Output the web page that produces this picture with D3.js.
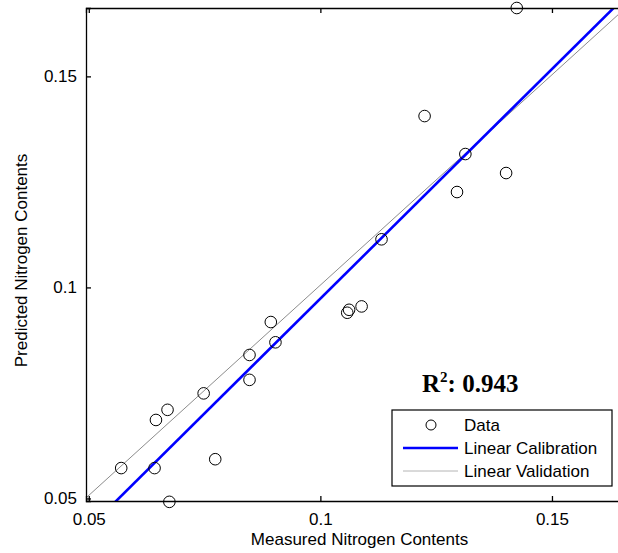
<!DOCTYPE html>
<html>
<head>
<meta charset="utf-8">
<script src="https://cdn.jsdelivr.net/npm/d3@7"></script>
<style>
  body { margin: 0; background: #fff; }
  text { font-family: "Liberation Sans", Arial, sans-serif; }
</style>
</head>
<body>
<div id="chart-area"></div>
<script>
// measured vs predicted nitrogen contents
var measured = [0.1424, 0.1225, 0.1313, 0.1401, 0.1295, 0.1132, 0.1089, 0.1062, 0.1058, 0.0893,
                0.0903, 0.0847, 0.0847, 0.0748, 0.0670, 0.0645, 0.0773, 0.0570, 0.0642, 0.0674];
var predicted = [0.1662, 0.1406, 0.1316, 0.1271, 0.1226, 0.1114, 0.0955, 0.0947, 0.0940, 0.0918,
                 0.0870, 0.0840, 0.0781, 0.0749, 0.0710, 0.0686, 0.0593, 0.0572, 0.0572, 0.0492];

// fitted lines: [slope, intercept]
var calibration = [1.0875, -0.0114];
var validation = [0.9965, 0.0009];

var xTicks = [0.05, 0.1, 0.15];
var yTicks = [0.05, 0.1, 0.15];
var rSquared = "0.943";
var legendLabels = ["Data", "Linear Calibration", "Linear Validation"];

var svg = d3.select("#chart-area")
  .append("svg")
  .attr("width", 618)
  .attr("height", 553);

var margin = { top: 8, left: 86 };
var width = 541;
var height = 493;

var g = svg.append("g")
  .attr("transform", "translate(" + margin.left + "," + margin.top + ")");

var x = d3.scaleLinear()
  .domain([0.0494, 0.1662])
  .range([0, width]);

var y = d3.scaleLinear()
  .domain([0.0494, 0.1662])
  .range([height, 0]);

g.append("clipPath")
  .attr("id", "clip")
  .append("rect")
  .attr("width", width)
  .attr("height", height);

// fit lines
var fits = [
  { coef: validation, color: "#8c8c8c", w: 1 },
  { coef: calibration, color: "#0000ff", w: 2.6 }
];
fits.forEach(function (f) {
  var xs = x.domain();
  g.append("line")
    .attr("clip-path", "url(#clip)")
    .attr("x1", x(xs[0]))
    .attr("y1", y(f.coef[0] * xs[0] + f.coef[1]))
    .attr("x2", x(xs[1]))
    .attr("y2", y(f.coef[0] * xs[1] + f.coef[1]))
    .attr("stroke", f.color)
    .attr("stroke-width", f.w);
});

// data points
g.selectAll("circle.pt")
  .data(measured)
  .enter()
  .append("circle")
  .attr("class", "pt")
  .attr("cx", d => x(d))
  .attr("cy", (d, i) => y(predicted[i]))
  .attr("r", 5.8)
  .attr("fill", "none")
  .attr("stroke", "black")
  .attr("stroke-width", 1);

// axes (ticks inward, like matlab)
var xAxisCall = d3.axisBottom(x).tickValues(xTicks).tickSize(-5).tickPadding(12).tickFormat(d3.format("~g"));
g.append("g")
  .attr("class", "x axis")
  .attr("transform", "translate(0," + height + ")")
  .call(xAxisCall);

var yAxisCall = d3.axisLeft(y).tickValues(yTicks).tickSize(-5).tickPadding(9).tickFormat(d3.format("~g"));
g.append("g")
  .attr("class", "y axis")
  .call(yAxisCall);

var xTopCall = d3.axisTop(x).tickValues(xTicks).tickSize(-5).tickFormat("");
g.append("g")
  .attr("class", "x axis top")
  .call(xTopCall);

g.selectAll(".axis text")
  .attr("font-size", "17px")
  .attr("fill", "black")
  .style("font-family", "'Liberation Sans', Arial, sans-serif");

g.selectAll(".domain, .tick line")
  .attr("stroke", "black")
  .attr("stroke-width", 1.3);

g.append("text")
  .attr("class", "x axis-label")
  .attr("x", width / 2 + 3)
  .attr("y", height + 44)
  .attr("font-size", "17px")
  .attr("text-anchor", "middle")
  .text("Measured Nitrogen Contents");

g.append("text")
  .attr("class", "y axis-label")
  .attr("x", -(height / 2) - 6)
  .attr("y", -59)
  .attr("font-size", "17px")
  .attr("text-anchor", "middle")
  .attr("transform", "rotate(-90)")
  .text("Predicted Nitrogen Contents");

// R squared annotation
var r2 = g.append("text")
  .attr("x", 336)
  .attr("y", 384)
  .attr("font-size", "25px")
  .attr("font-weight", "bold")
  .style("font-family", "'Liberation Serif', 'Times New Roman', serif");
r2.append("tspan").text("R");
r2.append("tspan").attr("font-size", "15px").attr("dy", -10).text("2");
r2.append("tspan").attr("dy", 10).text(": " + rSquared);

// legend
var legend = g.append("g")
  .attr("transform", "translate(306,402)");

legend.append("rect")
  .attr("width", 220)
  .attr("height", 76)
  .attr("fill", "white")
  .attr("stroke", "black")
  .attr("stroke-width", 1.2);

legend.append("circle")
  .attr("cx", 39)
  .attr("cy", 15)
  .attr("r", 5)
  .attr("fill", "none")
  .attr("stroke", "black");

legend.append("line")
  .attr("x1", 11).attr("x2", 66)
  .attr("y1", 38).attr("y2", 38)
  .attr("stroke", "#0000ff")
  .attr("stroke-width", 2.6);

legend.append("line")
  .attr("x1", 11).attr("x2", 66)
  .attr("y1", 61).attr("y2", 61)
  .attr("stroke", "#b4b4b4")
  .attr("stroke-width", 1);

legend.selectAll("text")
  .data(legendLabels)
  .enter()
  .append("text")
  .attr("x", 72)
  .attr("y", (d, i) => 21 + i * 23)
  .attr("font-size", "17px")
  .text(d => d);
</script>
</body>
</html>
